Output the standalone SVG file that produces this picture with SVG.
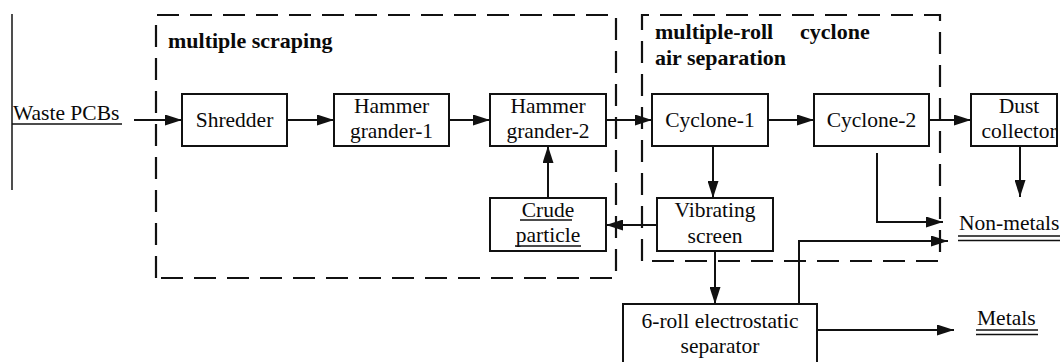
<svg xmlns="http://www.w3.org/2000/svg" width="1060" height="362" viewBox="0 0 1060 362">
  <style>
    .box { fill: #fff; stroke: #111; stroke-width: 2; }
    .group { fill: none; stroke: #111; stroke-width: 2.2; stroke-dasharray: 22 11; }
    .conn { fill: none; stroke: #111; stroke-width: 2; }
    .ul { stroke: #111; stroke-width: 1.6; }
    text { font-family: "Liberation Serif", "Times New Roman", serif; font-size: 21.5px; fill: #0a0a0a; }
    .c { text-anchor: middle; }
    .title { font-weight: bold; font-size: 22px; }
  </style>
  <defs>
    <marker id="arrow" viewBox="0 0 17 11" refX="17" refY="5.5" markerWidth="17" markerHeight="11" markerUnits="userSpaceOnUse" orient="auto">
      <path d="M0,0 L17,5.5 L0,11 z" fill="#111"/>
    </marker>
  </defs>

  <rect width="1060" height="362" fill="#fff"/>

  <!-- left margin rule -->
  <line x1="12" y1="14" x2="12" y2="190" stroke="#222" stroke-width="1.6"/>

  <!-- process stage groups -->
  <g id="stage-scraping">
    <path class="group" d="M156,278 V15 H616 V278 Z"/>
    <text class="title" x="168" y="48">multiple scraping</text>
  </g>
  <g id="stage-cyclone">
    <path class="group" d="M642,261 V15 H940 V261 Z"/>
    <text class="title" x="655" y="39">multiple-roll</text>
    <text class="title" x="800" y="39">cyclone</text>
    <text class="title" x="655" y="65">air separation</text>
  </g>

  <!-- inputs / outputs -->
  <g id="waste-pcbs">
    <text x="13" y="120">Waste PCBs</text>
    <line class="ul" x1="12" y1="124" x2="122" y2="124"/>
  </g>
  <g id="non-metals">
    <text x="959" y="230">Non-metals</text>
    <line class="ul" x1="958" y1="236" x2="1060" y2="236"/>
    <line class="ul" x1="958" y1="240.5" x2="1060" y2="240.5"/>
  </g>
  <g id="metals">
    <text x="977" y="325">Metals</text>
    <line class="ul" x1="976" y1="330" x2="1038" y2="330"/>
    <line class="ul" x1="976" y1="334.5" x2="1038" y2="334.5"/>
  </g>

  <!-- equipment -->
  <g id="shredder">
    <rect class="box" x="182" y="94" width="105" height="52"/>
    <text class="c" x="234.5" y="127">Shredder</text>
  </g>
  <g id="hammer-1">
    <rect class="box" x="334" y="94" width="115" height="52"/>
    <text class="c" x="391.5" y="113">Hammer</text>
    <text class="c" x="391.5" y="138">grander-1</text>
  </g>
  <g id="hammer-2">
    <rect class="box" x="490" y="94" width="116" height="52"/>
    <text class="c" x="548" y="113">Hammer</text>
    <text class="c" x="548" y="138">grander-2</text>
  </g>
  <g id="cyclone-1">
    <rect class="box" x="652" y="94" width="116" height="52"/>
    <text class="c" x="710" y="127">Cyclone-1</text>
  </g>
  <g id="cyclone-2">
    <rect class="box" x="814" y="94" width="115" height="52"/>
    <text class="c" x="871.5" y="127">Cyclone-2</text>
  </g>
  <g id="dust-collector">
    <rect class="box" x="971" y="94" width="86" height="52"/>
    <text class="c" x="1019" y="113">Dust</text>
    <text class="c" x="1019" y="138">collector</text>
  </g>
  <g id="crude-particle">
    <rect class="box" x="490" y="198" width="116" height="53"/>
    <text class="c" x="548" y="217">Crude</text>
    <line class="ul" x1="520" y1="220" x2="572" y2="220"/>
    <text class="c" x="548" y="242">particle</text>
    <line class="ul" x1="515" y1="246" x2="581" y2="246"/>
  </g>
  <g id="vibrating-screen">
    <rect class="box" x="657" y="198" width="116" height="53"/>
    <text class="c" x="715" y="217">Vibrating</text>
    <text class="c" x="715" y="243">screen</text>
  </g>
  <g id="electrostatic-separator">
    <rect class="box" x="623" y="304" width="194" height="70"/>
    <text class="c" x="720" y="328">6-roll electrostatic</text>
    <text class="c" x="720" y="353">separator</text>
  </g>

  <!-- material flow -->
  <g id="connectors">
    <path class="conn" d="M134,120 H182" marker-end="url(#arrow)"/>
    <path class="conn" d="M287,120 H334" marker-end="url(#arrow)"/>
    <path class="conn" d="M449,120 H490" marker-end="url(#arrow)"/>
    <path class="conn" d="M606,120 H652" marker-end="url(#arrow)"/>
    <path class="conn" d="M768,120 H814" marker-end="url(#arrow)"/>
    <path class="conn" d="M929,120 H971" marker-end="url(#arrow)"/>
    <path class="conn" d="M1020,146 V197" marker-end="url(#arrow)"/>
    <path class="conn" d="M713,146 V198" marker-end="url(#arrow)"/>
    <path class="conn" d="M657,225 H606" marker-end="url(#arrow)"/>
    <path class="conn" d="M548,198 V146" marker-end="url(#arrow)"/>
    <path class="conn" d="M715,251 V304" marker-end="url(#arrow)"/>
    <path class="conn" d="M877,153 V222 H943" marker-end="url(#arrow)"/>
    <path class="conn" d="M799,304 V241 H948" marker-end="url(#arrow)"/>
    <path class="conn" d="M817,330 H954" marker-end="url(#arrow)"/>
  </g>
</svg>
